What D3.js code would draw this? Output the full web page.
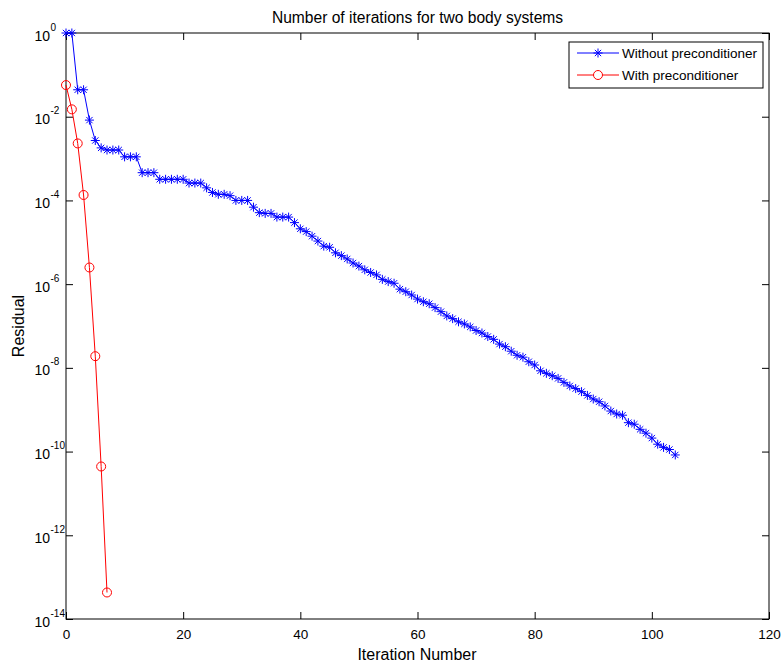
<!DOCTYPE html>
<html><head><meta charset="utf-8">
<script src="https://cdn.jsdelivr.net/npm/d3@7"></script>
<style>body{margin:0;background:#fff}svg{display:block}text{font-family:"Liberation Sans",Arial,sans-serif}</style>
</head><body>
<script>
const titleText = "Number of iterations for two body systems";
const xLabel = "Iteration Number";
const yLabel = "Residual";
const seriesNames = ["Without preconditioner", "With preconditioner"];
const xTicks = [0, 20, 40, 60, 80, 100, 120];
const yTickExps = [0, -2, -4, -6, -8, -10, -12, -14];
const withoutPre = [
 1, 1, 4.4e-2, 4.4e-2, 8.3e-3, 2.7e-3, 1.8e-3, 1.6e-3, 1.6e-3, 1.6e-3,
 1.1e-3, 1.1e-3, 1.1e-3, 4.6e-4, 4.6e-4, 4.6e-4, 3.2e-4, 3.2e-4, 3.2e-4, 3.2e-4,
 3.2e-4, 2.6e-4, 2.6e-4, 2.6e-4, 2.0e-4, 1.55e-4, 1.4e-4, 1.4e-4, 1.3e-4, 1.0e-4,
 1.0e-4, 1.0e-4, 6.9e-5, 5.1e-5, 4.9e-5, 4.9e-5, 4.0e-5, 4.0e-5, 4.0e-5, 2.95e-5,
 2.1e-5, 1.8e-5, 1.4e-5, 1.07e-5, 8.1e-6, 7.6e-6, 5.6e-6, 4.8e-6, 4.0e-6, 3.2e-6,
 2.7e-6, 2.2e-6, 1.9e-6, 1.66e-6, 1.3e-6, 1.15e-6, 1.05e-6, 7.6e-7, 6.6e-7, 5.5e-7,
 4.4e-7, 3.8e-7, 3.4e-7, 2.75e-7, 2.2e-7, 1.74e-7, 1.5e-7, 1.26e-7, 1.12e-7, 9.5e-8,
 7.8e-8, 6.8e-8, 5.6e-8, 4.8e-8, 3.7e-8, 3.2e-8, 2.5e-8, 2.0e-8, 1.8e-8, 1.4e-8,
 1.17e-8, 8.5e-9, 7.4e-9, 6.5e-9, 5.6e-9, 4.5e-9, 3.7e-9, 3.2e-9, 2.7e-9, 2.2e-9,
 1.8e-9, 1.55e-9, 1.23e-9, 9.3e-10, 7.9e-10, 7.4e-10, 4.9e-10, 4.5e-10, 3.4e-10, 2.75e-10,
 2.1e-10, 1.5e-10, 1.26e-10, 1.12e-10, 8.3e-11
];
const withPre = [5.7e-2, 1.5e-2, 2.3e-3, 1.35e-4, 2.5e-6, 1.9e-8, 4.4e-11, 4.3e-14];

const W = 782, H = 667;
const m = {left: 66, right: 769, top: 33, bottom: 619};
const svg = d3.select("body").append("svg").attr("width", W).attr("height", H);
const x = d3.scaleLinear().domain([0, 120]).range([m.left, m.right]);
const y = d3.scaleLog().domain([1e-14, 1]).range([m.bottom, m.top]);

// axes
const tl = 7;
const gx = svg.append("g").attr("transform", `translate(0,${m.bottom})`)
  .call(d3.axisBottom(x).tickValues(xTicks).tickSize(-tl).tickFormat(d3.format("d")));
const gxt = svg.append("g").attr("transform", `translate(0,${m.top})`)
  .call(d3.axisTop(x).tickValues(xTicks).tickSize(-tl).tickFormat(""));
const yVals = yTickExps.map(e => Math.pow(10, e));
const gy = svg.append("g").attr("transform", `translate(${m.left},0)`)
  .call(d3.axisLeft(y).tickValues(yVals).tickSize(-tl).tickFormat(""));
const gyr = svg.append("g").attr("transform", `translate(${m.right},0)`)
  .call(d3.axisRight(y).tickValues(yVals).tickSize(-tl).tickFormat(""));
[gx, gxt, gy, gyr].forEach(g => {
  g.select(".domain").remove();
  g.selectAll(".tick line").attr("stroke", "#000").attr("stroke-width", 1);
});
gx.selectAll(".tick text").attr("y", 20).attr("dy", 0).attr("font-size", 13.5).attr("fill", "#000");
svg.append("rect").attr("x", m.left).attr("y", m.top).attr("width", m.right - m.left).attr("height", m.bottom - m.top)
  .attr("fill", "none").attr("stroke", "#000").attr("stroke-width", 1);

// y tick labels with superscripts
gy.selectAll(".tick").each(function(d, i) {
  const g = d3.select(this);
  g.append("text").attr("x", -16).attr("y", 7).attr("text-anchor", "end")
    .attr("font-size", 14).attr("fill", "#000").text("10");
  g.append("text").attr("x", -15.5).attr("y", -3).attr("text-anchor", "start")
    .attr("font-size", 10).attr("fill", "#000").text(String(yTickExps[i]));
});

// lines
const line = d3.line().x((d, i) => x(i)).y(d => y(d));
svg.append("path").datum(withoutPre).attr("d", line).attr("fill", "none").attr("stroke", "#0000ff").attr("stroke-width", 1);
svg.append("path").datum(withPre).attr("d", line).attr("fill", "none").attr("stroke", "#ff0000").attr("stroke-width", 1);

function star(g, cx, cy, s, color) {
  g.append("path").attr("d",
    `M${cx - s},${cy}L${cx + s},${cy}M${cx},${cy - s}L${cx},${cy + s}` +
    `M${cx - s * 0.7},${cy - s * 0.7}L${cx + s * 0.7},${cy + s * 0.7}M${cx - s * 0.7},${cy + s * 0.7}L${cx + s * 0.7},${cy - s * 0.7}`)
    .attr("stroke", color).attr("stroke-width", 1).attr("fill", "none");
}
const gm = svg.append("g");
withoutPre.forEach((d, i) => star(gm, x(i), y(d), 4.5, "#0000ff"));
svg.append("g").selectAll("circle").data(withPre).join("circle")
  .attr("cx", (d, i) => x(i)).attr("cy", d => y(d)).attr("r", 4.5)
  .attr("fill", "none").attr("stroke", "#ff0000").attr("stroke-width", 1);

// labels
svg.append("text").attr("x", (m.left + m.right) / 2).attr("y", 23).attr("text-anchor", "middle")
  .attr("font-size", 15.6).attr("fill", "#000").text(titleText);
svg.append("text").attr("x", 417).attr("y", 659.5).attr("text-anchor", "middle")
  .attr("font-size", 16).attr("fill", "#000").text(xLabel);
svg.append("text").attr("transform", `translate(24,${(m.top + m.bottom) / 2}) rotate(-90)`).attr("text-anchor", "middle")
  .attr("font-size", 16).attr("fill", "#000").text(yLabel);

// legend
const lg = svg.append("g");
lg.append("rect").attr("x", 569).attr("y", 42).attr("width", 194).attr("height", 46)
  .attr("fill", "#fff").attr("stroke", "#000").attr("stroke-width", 1);
const colors = ["#0000ff", "#ff0000"];
seriesNames.forEach((n, i) => {
  const yy = 53 + i * 22;
  lg.append("line").attr("x1", 577).attr("x2", 619).attr("y1", yy).attr("y2", yy).attr("stroke", colors[i]);
  if (i === 0) star(lg, 598, yy, 4.5, colors[i]);
  else lg.append("circle").attr("cx", 598).attr("cy", yy).attr("r", 4.5).attr("fill", "#fff").attr("stroke", colors[i]);
  lg.append("text").attr("x", 622).attr("y", yy + 5).attr("font-size", 13.5).attr("fill", "#000").text(n);
});
</script>
</body></html>
